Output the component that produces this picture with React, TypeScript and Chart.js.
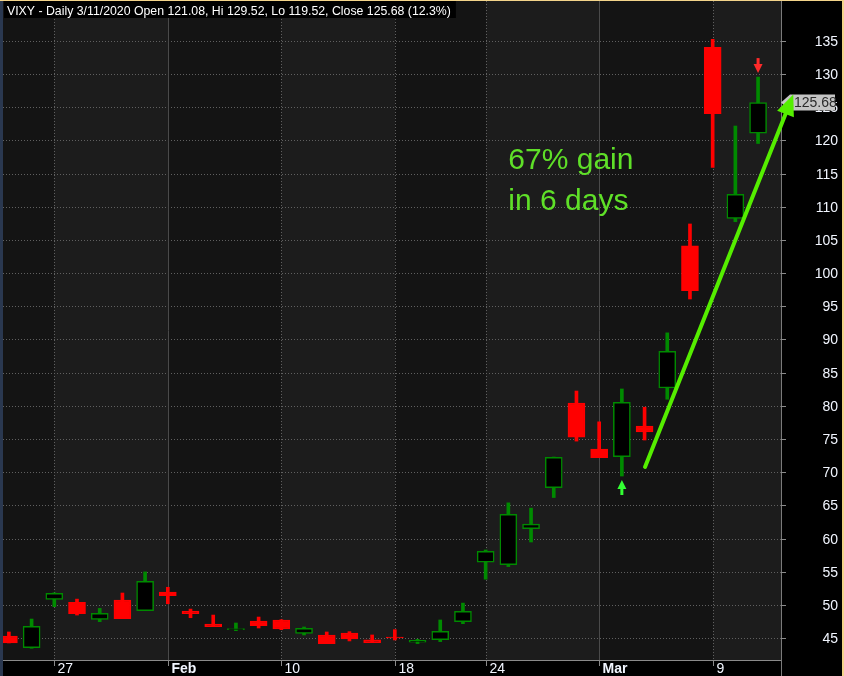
import { useEffect, useRef } from 'react';
import { Chart, registerables } from 'chart.js';

Chart.register(...registerables);

// ---- data ----
const dates = [
  'Jan 23', 'Jan 24', 'Jan 27', 'Jan 28', 'Jan 29', 'Jan 30', 'Jan 31',
  'Feb 3', 'Feb 4', 'Feb 5', 'Feb 6', 'Feb 7',
  'Feb 10', 'Feb 11', 'Feb 12', 'Feb 13', 'Feb 14',
  'Feb 18', 'Feb 19', 'Feb 20', 'Feb 21',
  'Feb 24', 'Feb 25', 'Feb 26', 'Feb 27', 'Feb 28',
  'Mar 2', 'Mar 3', 'Mar 4', 'Mar 5', 'Mar 6',
  'Mar 9', 'Mar 10', 'Mar 11',
];
const opens = [
  45.35, 43.6, 50.87, 50.42, 47.86, 50.77, 49.16,
  51.97, 49.1, 47.15, 46.3, 47.6,
  47.76, 45.75, 45.5, 45.8, 44.75,
  45.2, 44.4, 44.8, 47.5,
  56.45, 56.1, 61.5, 67.7, 80.44,
  73.5, 72.35, 76.97, 82.7, 104.1,
  134.0, 108.25, 121.08,
];
const highs = [
  45.95, 47.9, 51.85, 50.9, 49.5, 51.82, 55.0,
  52.68, 49.4, 48.5, 47.3, 48.2,
  47.8, 46.7, 45.95, 46.0, 45.5,
  46.3, 44.85, 47.76, 50.3,
  58.3, 65.4, 64.6, 72.3, 82.24,
  77.6, 82.55, 79.8, 91.0, 107.4,
  135.2, 122.15, 129.52,
];
const lows = [
  44.3, 43.5, 49.76, 48.5, 47.5, 47.95, 49.16,
  50.2, 48.1, 46.75, 46.15, 46.55,
  46.3, 45.5, 44.2, 44.6, 44.35,
  44.75, 44.2, 44.5, 47.2,
  53.9, 55.8, 59.5, 66.2, 74.7,
  72.2, 69.44, 74.86, 81.0, 96.1,
  115.9, 107.74, 119.52,
];
const closes = [
  44.3, 46.8, 51.78, 48.7, 48.77, 47.95, 53.58,
  51.42, 48.7, 46.75, 46.45, 46.9,
  46.4, 46.5, 44.2, 44.9, 44.35,
  45.05, 44.7, 46.05, 49.07,
  58.1, 63.67, 62.2, 72.26, 75.3,
  72.2, 80.54, 76.07, 88.2, 97.35,
  124.0, 111.87, 125.68,
];
const yTicks = [45, 50, 55, 60, 65, 70, 75, 80, 85, 90, 95, 100, 105, 110, 115, 120, 125, 130, 135];
const xTickIndex = [2, 7, 12, 17, 21, 26, 31];
const xTickLabels = ['27', 'Feb', '10', '18', '24', 'Mar', '9'];
const monthLabels = ['Feb', 'Mar'];
const titleText = 'VIXY - Daily 3/11/2020 Open 121.08, Hi 129.52, Lo 119.52, Close 125.68 (12.3%)';
const lastPrice = 125.68;
const noteLines = ['67% gain', 'in 6 days'];
const upSignalIndex = 27;
const downSignalIndex = 33;
const trendStart = { x: 28.02, y: 70.8 };
const trendTip = { x: 34.55, y: 126.9 };
const noteAnchor = { x: 22, y1: 115.7, y2: 109.5 };

const RED = '#ff0000';
const GREEN = '#008a00';
const AXIS_FONT = '14px "Liberation Sans Narrow", "Liberation Sans", Arial, sans-serif';
const AXIS_FONT_BOLD = 'bold 14px "Liberation Sans Narrow", "Liberation Sans", Arial, sans-serif';

const isUp = (i: number) => closes[i] >= opens[i];

const decor = {
  id: 'decor',
  beforeDraw(chart: any) {
    const { ctx, chartArea: a, scales } = chart;
    const x = scales.x;
    const y = scales.y;
    ctx.save();
    ctx.fillStyle = '#000';
    ctx.fillRect(0, 0, chart.width, chart.height);
    const bounds = [a.left, ...xTickIndex.map((i) => Math.round(x.getPixelForValue(i))), a.right];
    for (let k = 0; k < bounds.length - 1; k++) {
      ctx.fillStyle = k % 2 === 0 ? '#141414' : '#1c1c1c';
      ctx.fillRect(bounds[k], a.top, bounds[k + 1] - bounds[k], a.bottom - a.top);
    }
    ctx.lineWidth = 1;
    ctx.strokeStyle = '#606060';
    ctx.setLineDash([1, 2]);
    yTicks.forEach((v) => {
      const py = Math.round(y.getPixelForValue(v)) + 0.5;
      ctx.beginPath();
      ctx.moveTo(a.left, py);
      ctx.lineTo(a.right, py);
      ctx.stroke();
    });
    xTickIndex.forEach((i, k) => {
      const px = Math.round(x.getPixelForValue(i)) + 0.5;
      const month = monthLabels.includes(xTickLabels[k]);
      ctx.setLineDash(month ? [] : [1, 2]);
      ctx.strokeStyle = month ? '#4a4a4a' : '#606060';
      ctx.beginPath();
      ctx.moveTo(px, a.top);
      ctx.lineTo(px, a.bottom);
      ctx.stroke();
    });
    ctx.restore();
  },
  afterDatasetsDraw(chart: any) {
    const { ctx, chartArea: a, scales } = chart;
    const x = scales.x;
    const y = scales.y;
    ctx.save();

    // signal arrows
    const drawSignal = (px: number, tipY: number, dir: number, color: string) => {
      ctx.fillStyle = color;
      ctx.beginPath();
      ctx.moveTo(px, tipY);
      ctx.lineTo(px + 4.5, tipY + dir * 9);
      ctx.lineTo(px - 4.5, tipY + dir * 9);
      ctx.closePath();
      ctx.fill();
      ctx.fillRect(px - 1.5, dir > 0 ? tipY + 8 : tipY - 15, 3, 7);
    };
    const ux = x.getPixelForValue(upSignalIndex);
    drawSignal(ux, y.getPixelForValue(lows[upSignalIndex]) + 4, 1, '#33ff33');
    const dx = x.getPixelForValue(downSignalIndex);
    drawSignal(dx, y.getPixelForValue(highs[downSignalIndex]) - 4, -1, '#ff2a2a');

    // axis area backgrounds
    ctx.fillStyle = '#000';
    ctx.fillRect(0, a.bottom, chart.width, chart.height - a.bottom);
    ctx.fillRect(a.right, 0, chart.width - a.right, chart.height);

    // axis lines
    ctx.lineWidth = 1;
    ctx.strokeStyle = '#8a8a8a';
    ctx.beginPath();
    ctx.moveTo(a.left, a.bottom + 0.5);
    ctx.lineTo(a.right + 1, a.bottom + 0.5);
    ctx.stroke();
    ctx.strokeStyle = '#7a7a7a';
    ctx.beginPath();
    ctx.moveTo(a.right + 0.5, 0);
    ctx.lineTo(a.right + 0.5, chart.height);
    ctx.stroke();

    // x ticks and labels
    ctx.textBaseline = 'alphabetic';
    ctx.textAlign = 'left';
    xTickIndex.forEach((i, k) => {
      const px = Math.round(x.getPixelForValue(i)) + 0.5;
      ctx.strokeStyle = '#8a8a8a';
      ctx.beginPath();
      ctx.moveTo(px, a.bottom);
      ctx.lineTo(px, a.bottom + 6);
      ctx.stroke();
      const month = monthLabels.includes(xTickLabels[k]);
      ctx.font = month ? AXIS_FONT_BOLD : AXIS_FONT;
      ctx.fillStyle = '#f2f6ff';
      ctx.fillText(xTickLabels[k], px + 3, a.bottom + 12.5);
    });

    // y ticks and labels
    ctx.font = AXIS_FONT;
    ctx.textAlign = 'right';
    yTicks.forEach((v) => {
      const py = Math.round(y.getPixelForValue(v)) + 0.5;
      ctx.strokeStyle = '#8a8a8a';
      ctx.beginPath();
      ctx.moveTo(a.right, py);
      ctx.lineTo(a.right + 5, py);
      ctx.stroke();
      ctx.fillStyle = '#f2f6ff';
      ctx.fillText(String(v), 838, py + 4.2);
    });

    // last price label
    const lp = y.getPixelForValue(lastPrice);
    ctx.fillStyle = '#c4c4c4';
    ctx.beginPath();
    ctx.moveTo(a.right, lp);
    ctx.lineTo(a.right + 9, lp - 8);
    ctx.lineTo(835, lp - 8);
    ctx.lineTo(835, lp + 8);
    ctx.lineTo(a.right + 9, lp + 8);
    ctx.closePath();
    ctx.fill();
    ctx.fillStyle = '#2a2a2a';
    ctx.textAlign = 'left';
    ctx.fillText(lastPrice.toFixed(2), 794, lp + 4.5);

    // trend arrow
    const sx = x.getPixelForValue(trendStart.x);
    const sy = y.getPixelForValue(trendStart.y);
    const tx = x.getPixelForValue(trendTip.x);
    const ty = y.getPixelForValue(trendTip.y);
    const len = Math.hypot(tx - sx, ty - sy);
    const ux2 = (tx - sx) / len;
    const uy2 = (ty - sy) / len;
    const headLen = 21;
    const half = 9;
    const bx = tx - ux2 * headLen;
    const by = ty - uy2 * headLen;
    ctx.strokeStyle = '#55ee00';
    ctx.lineWidth = 4;
    ctx.lineCap = 'round';
    ctx.beginPath();
    ctx.moveTo(sx, sy);
    ctx.lineTo(bx + ux2 * 2, by + uy2 * 2);
    ctx.stroke();
    ctx.fillStyle = '#55ee00';
    ctx.beginPath();
    ctx.moveTo(tx, ty);
    ctx.lineTo(bx - uy2 * half, by + ux2 * half);
    ctx.lineTo(bx + uy2 * half, by - ux2 * half);
    ctx.closePath();
    ctx.fill();

    // note text
    ctx.fillStyle = '#5fe028';
    ctx.font = '30px "Liberation Sans", Arial, sans-serif';
    ctx.textAlign = 'left';
    const nx = x.getPixelForValue(noteAnchor.x);
    ctx.fillText(noteLines[0], nx, y.getPixelForValue(noteAnchor.y1));
    ctx.fillText(noteLines[1], nx, y.getPixelForValue(noteAnchor.y2));

    // title box
    ctx.font = '12.3px "Liberation Sans", Arial, sans-serif';
    const tw = ctx.measureText(titleText).width;
    ctx.fillStyle = '#000';
    ctx.fillRect(a.left + 1, 1, tw + 8, 17);
    ctx.fillStyle = '#ffffff';
    ctx.fillText(titleText, a.left + 4, 15);

    // frame
    ctx.fillStyle = '#2a3850';
    ctx.fillRect(0, 0, a.left, chart.height);
    ctx.fillStyle = '#f3d48a';
    ctx.fillRect(0, 0, chart.width, 1);
    ctx.fillRect(chart.width - 2, 0, 2, chart.height);
    ctx.restore();
  },
};

export default function App() {
  const ref = useRef<HTMLCanvasElement | null>(null);
  useEffect(() => {
    document.body.style.margin = '0';
    const canvas = ref.current;
    if (!canvas) return;
    const chart = new Chart(canvas, {
      type: 'bar',
      data: {
        datasets: [
          {
            label: 'Range',
            data: dates.map((_, i) => ({ x: i, y: [lows[i], highs[i]] })) as any,
            backgroundColor: dates.map((_, i) => (isUp(i) ? GREEN : RED)),
            borderWidth: 0,
            barThickness: 3,
            grouped: false,
            order: 2,
          },
          {
            label: 'VIXY',
            data: dates.map((_, i) => ({ x: i, y: [opens[i], closes[i]] })) as any,
            backgroundColor: dates.map((_, i) => (isUp(i) ? '#000000' : RED)),
            borderColor: dates.map((_, i) => (isUp(i) ? GREEN : RED)),
            borderWidth: 1.5,
            borderSkipped: false,
            barThickness: 17,
            grouped: false,
            order: 1,
          },
        ],
      },
      options: {
        responsive: false,
        animation: false,
        devicePixelRatio: 1,
        events: [],
        layout: { padding: { left: 3, top: 1, right: 63, bottom: 16 } },
        plugins: {
          legend: { display: false },
          tooltip: { enabled: false },
          title: { display: false },
        },
        scales: {
          x: { type: 'linear', display: false, offset: false, min: -0.26, max: 34.01, grid: { offset: false } },
          y: { type: 'linear', display: false, min: 41.73, max: 140.98 },
        },
      },
      plugins: [decor],
    });
    return () => chart.destroy();
  }, []);
  return (
    <div style={{ width: 844, height: 676, position: 'relative' }}>
      <canvas ref={ref} width={844} height={676} style={{ display: 'block' }} />
    </div>
  );
}
